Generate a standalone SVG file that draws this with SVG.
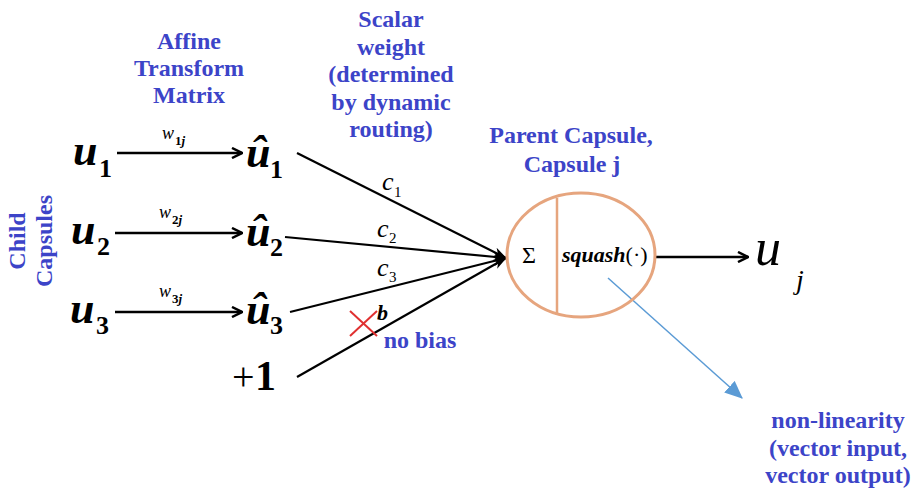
<svg xmlns="http://www.w3.org/2000/svg" width="918" height="491" viewBox="0 0 918 491">
<defs>
<marker id="open" viewBox="0 0 12 12" refX="11" refY="6" markerWidth="12" markerHeight="12" markerUnits="userSpaceOnUse" orient="auto">
<polyline points="1,1 11,6 1,11" fill="none" stroke="#000" stroke-width="2.5"/>
</marker>
<marker id="fill" viewBox="0 0 14 10" refX="13" refY="5" markerWidth="14" markerHeight="10" markerUnits="userSpaceOnUse" orient="auto">
<path d="M0,0 L14,5 L0,10 L4,5 Z" fill="#000"/>
</marker>
<marker id="blue" viewBox="0 0 16 14" refX="15" refY="7" markerWidth="18" markerHeight="16" markerUnits="userSpaceOnUse" orient="auto">
<path d="M0,0 L16,7 L0,14 Z" fill="#5b9bd5"/>
</marker>
</defs>
<rect width="918" height="491" fill="#fff"/>

<g id="labels" font-size="24" font-weight="bold" fill="#3c44c8" text-anchor="middle">
<text x="189" y="49" style="font-family:'Liberation Serif' !important">Affine</text>
<text x="189" y="76" style="font-family:'Liberation Serif' !important">Transform</text>
<text x="189" y="103" style="font-family:'Liberation Serif' !important">Matrix</text>
<text x="391" y="27" style="font-family:'Liberation Serif' !important">Scalar</text>
<text x="391" y="55" style="font-family:'Liberation Serif' !important">weight</text>
<text x="391" y="82" style="font-family:'Liberation Serif' !important">(determined</text>
<text x="391" y="110" style="font-family:'Liberation Serif' !important">by dynamic</text>
<text x="391" y="137" style="font-family:'Liberation Serif' !important">routing)</text>
<text x="571" y="143" style="font-family:'Liberation Serif' !important">Parent Capsule,</text>
<text x="572" y="172" style="font-family:'Liberation Serif' !important">Capsule j</text>
<text transform="translate(25,241) rotate(-90)" style="font-family:'Liberation Serif' !important">Child</text>
<text transform="translate(52,241) rotate(-90)" style="font-family:'Liberation Serif' !important">Capsules</text>
<text x="420" y="348" style="font-family:'Liberation Serif' !important">no bias</text>
<text x="838" y="428" style="font-family:'Liberation Serif' !important">non-linearity</text>
<text x="838" y="456" style="font-family:'Liberation Serif' !important">(vector input,</text>
<text x="838" y="483" style="font-family:'Liberation Serif' !important">vector output)</text>
</g>

<g id="connectors" stroke="#000" fill="none">
<g stroke-width="2.5">
<line x1="117" y1="153" x2="242" y2="153" marker-end="url(#open)"/>
<line x1="115" y1="233" x2="242" y2="233" marker-end="url(#open)"/>
<line x1="115" y1="312" x2="242" y2="312" marker-end="url(#open)"/>
<line x1="655" y1="257" x2="748" y2="257" marker-end="url(#open)"/>
</g>
<g stroke-width="2.2">
<line x1="297" y1="153" x2="506" y2="258" marker-end="url(#fill)"/>
<line x1="285" y1="237" x2="506" y2="258" marker-end="url(#fill)"/>
<line x1="290" y1="312" x2="506" y2="258" marker-end="url(#fill)"/>
<line x1="297" y1="377" x2="506" y2="258" marker-end="url(#fill)"/>
</g>
<line x1="608" y1="278" x2="742" y2="398" stroke="#5b9bd5" stroke-width="1.5" marker-end="url(#blue)"/>
</g>

<g id="weights" fill="#000">
<text x="162" y="139" font-size="18" font-style="italic" style="font-family:'Liberation Serif' !important">w</text>
<text x="175" y="145" font-size="13" font-weight="bold" style="font-family:'Liberation Serif' !important">1<tspan font-style="italic">j</tspan></text>
<text x="159" y="218" font-size="18" font-style="italic" style="font-family:'Liberation Serif' !important">w</text>
<text x="172" y="224" font-size="13" font-weight="bold" style="font-family:'Liberation Serif' !important">2<tspan font-style="italic">j</tspan></text>
<text x="159" y="297" font-size="18" font-style="italic" style="font-family:'Liberation Serif' !important">w</text>
<text x="172" y="303" font-size="13" font-weight="bold" style="font-family:'Liberation Serif' !important">3<tspan font-style="italic">j</tspan></text>
<text x="382" y="190" font-size="26" font-style="italic" style="font-family:'Liberation Serif' !important">c</text>
<text x="394" y="197" font-size="15" style="font-family:'Liberation Serif' !important">1</text>
<text x="377" y="237" font-size="26" font-style="italic" style="font-family:'Liberation Serif' !important">c</text>
<text x="389" y="243" font-size="15" style="font-family:'Liberation Serif' !important">2</text>
<text x="377" y="276" font-size="26" font-style="italic" style="font-family:'Liberation Serif' !important">c</text>
<text x="389" y="282" font-size="15" style="font-family:'Liberation Serif' !important">3</text>
<text x="377" y="320" font-size="22" font-style="italic" font-weight="bold" style="font-family:'Liberation Serif' !important">b</text>
<g id="nobias-x" stroke="#e03030" stroke-width="2">
<line x1="350" y1="311" x2="377" y2="336"/>
<line x1="377" y1="311" x2="350" y2="336"/>
</g>
</g>

<g id="u1" font-weight="bold"><text x="73" y="165" font-size="44" font-style="italic" style="font-family:'Liberation Serif' !important">u</text><text x="99" y="177" font-size="26" style="font-family:'Liberation Serif' !important">1</text></g>
<g id="u2" font-weight="bold"><text x="71" y="244" font-size="44" font-style="italic" style="font-family:'Liberation Serif' !important">u</text><text x="97" y="255" font-size="26" style="font-family:'Liberation Serif' !important">2</text></g>
<g id="u3" font-weight="bold"><text x="70" y="323" font-size="44" font-style="italic" style="font-family:'Liberation Serif' !important">u</text><text x="96" y="334" font-size="26" style="font-family:'Liberation Serif' !important">3</text></g>
<g id="uhat1" font-weight="bold"><text x="246" y="167" font-size="44" font-style="italic" style="font-family:'Liberation Serif' !important">&#251;</text><text x="270" y="178" font-size="26" style="font-family:'Liberation Serif' !important">1</text></g>
<g id="uhat2" font-weight="bold"><text x="246" y="246" font-size="44" font-style="italic" style="font-family:'Liberation Serif' !important">&#251;</text><text x="270" y="256" font-size="26" style="font-family:'Liberation Serif' !important">2</text></g>
<g id="uhat3" font-weight="bold"><text x="246" y="324" font-size="44" font-style="italic" style="font-family:'Liberation Serif' !important">&#251;</text><text x="270" y="334" font-size="26" style="font-family:'Liberation Serif' !important">3</text></g>
<g id="plus1"><text x="232" y="390" font-size="40" style="font-family:'Liberation Serif' !important">+</text><text x="255" y="390" font-size="42" font-weight="bold" style="font-family:'Liberation Serif' !important">1</text></g>

<g id="capsule">
<ellipse cx="581" cy="255" rx="74" ry="62" fill="none" stroke="#e6a57e" stroke-width="3"/>
<line x1="557" y1="198" x2="557" y2="315" stroke="#e6a57e" stroke-width="2.5"/>
<text x="522" y="263" font-size="24" style="font-family:'Liberation Serif' !important">&#931;</text>
<text x="562" y="262" font-size="22" font-style="italic" font-weight="bold" style="font-family:'Liberation Serif' !important">squash<tspan font-style="normal" font-weight="normal">(&#183;)</tspan></text>
</g>

<g id="uj" font-style="italic">
<text x="755" y="265" font-size="52" style="font-family:'Liberation Serif' !important">u</text>
<text x="796" y="289" font-size="28" style="font-family:'Liberation Serif' !important">j</text>
</g>
</svg>
